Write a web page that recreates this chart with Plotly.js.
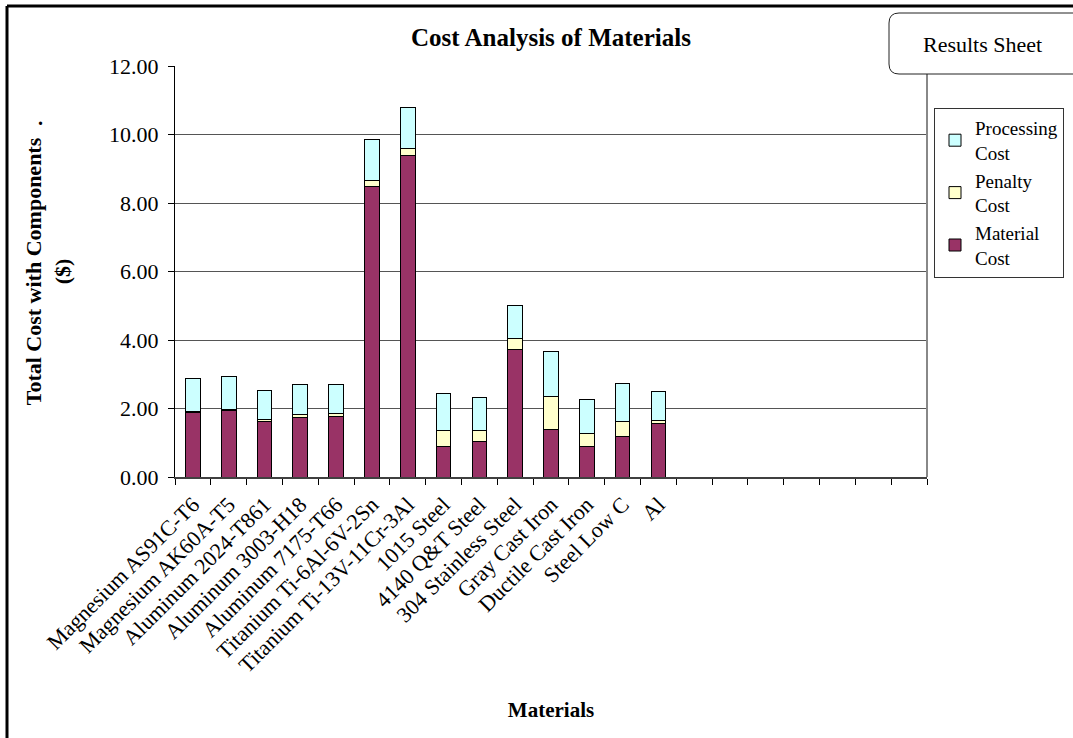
<!DOCTYPE html>
<html>
<head>
<meta charset="utf-8">
<script src="https://cdn.plot.ly/plotly-3.0.1.min.js"></script>
<style>html,body{margin:0;padding:0;background:#fff;}#chart{width:1073px;height:738px;}</style>
</head>
<body>
<div id="chart"></div>
<script>
const categories = [
  "Magnesium AS91C-T6", "Magnesium AK60A-T5", "Aluminum 2024-T861", "Aluminum 3003-H18",
  "Aluminum 7175-T66", "Titanium Ti-6Al-6V-2Sn", "Titanium Ti-13V-11Cr-3Al", "1015 Steel",
  "4140 Q&T Steel", "304 Stainless Steel", "Gray Cast Iron", "Ductile Cast Iron",
  "Steel Low C", "Al",
  " ", "  ", "   ", "    ", "     ", "      ", "       "
];
const materialCost   = [1.88, 1.95, 1.62, 1.74, 1.77, 8.48, 9.38, 0.90, 1.05, 3.72, 1.39, 0.88, 1.18, 1.57, null, null, null, null, null, null, null];
const penaltyCost    = [0.03, 0.02, 0.05, 0.09, 0.08, 0.18, 0.20, 0.47, 0.31, 0.31, 0.96, 0.38, 0.45, 0.08, null, null, null, null, null, null, null];
const processingCost = [0.97, 0.95, 0.87, 0.88, 0.86, 1.19, 1.20, 1.07, 0.95, 0.97, 1.32, 0.99, 1.11, 0.85, null, null, null, null, null, null, null];
const seriesNames = ["Material<br>Cost", "Penalty<br>Cost", "Processing<br>Cost"];
const yTickVals = [0, 2, 4, 6, 8, 10, 12];

const FONT = "Liberation Serif, Times New Roman, serif";
const line = {color: "#000", width: 1};

const traces = [
  {type: "bar", name: seriesNames[0], x: categories, y: materialCost, marker: {color: "#993366", line: line}},
  {type: "bar", name: seriesNames[1], x: categories, y: penaltyCost, marker: {color: "#FFFFCC", line: line}},
  {type: "bar", name: seriesNames[2], x: categories, y: processingCost, marker: {color: "#CCFFFF", line: line}}
];

// pixel -> paper helpers for decorations
const L = 175, R = 927, T = 66, B = 477;
const px = v => (v - L) / (R - L);
const py = v => (B - v) / (B - T);

const bx0 = px(889), bx1 = px(1090), by0 = py(74), by1 = py(13);
const rx = 10 / (R - L), ry = 10 / (B - T);
const boxPath = `M${bx0 + rx},${by1} L${bx1 - rx},${by1} Q${bx1},${by1} ${bx1},${by1 - ry} L${bx1},${by0 + ry} Q${bx1},${by0} ${bx1 - rx},${by0} L${bx0 + rx},${by0} Q${bx0},${by0} ${bx0},${by0 + ry} L${bx0},${by1 - ry} Q${bx0},${by1} ${bx0 + rx},${by1} Z`;

const layout = {
  width: 1073, height: 738,
  margin: {l: L, r: 1073 - R, t: T, b: 738 - B, autoexpand: false},
  paper_bgcolor: "#fff", plot_bgcolor: "#fff",
  barmode: "stack", bargap: 0.59,
  font: {family: FONT, color: "#000", size: 21},
  title: {text: "<b>Cost Analysis of Materials</b>", font: {family: FONT, size: 25, color: "#000"},
          x: 0.5, xref: "paper", y: 1 - 37 / 738, yanchor: "middle"},
  xaxis: {
    type: "category", categoryorder: "array", categoryarray: categories,
    range: [-0.5, categories.length - 0.5],
    tickangle: -45, tickson: "boundaries", ticks: "outside", ticklen: 6, tickcolor: "#000",
    ticklabelstandoff: 4,
    tickfont: {family: FONT, size: 22, color: "#000"},
    showline: true, linecolor: "#404040", linewidth: 2, showgrid: false,
    title: {text: "<b>Materials</b>", font: {family: FONT, size: 21, color: "#000"}, standoff: 26}
  },
  yaxis: {
    range: [0, 12], tickvals: yTickVals, tickformat: ".2f",
    ticks: "outside", ticklen: 6, tickcolor: "#000",
    ticklabelstandoff: 5,
    tickfont: {family: FONT, size: 22, color: "#000"},
    showline: true, linecolor: "#000", linewidth: 1,
    showgrid: true, gridcolor: "#555", gridwidth: 1, zeroline: false,
    title: {text: "<b>Total Cost with Components<br>($)</b>", font: {family: FONT, size: 22, color: "#000"}, standoff: 32}
  },
  legend: {
    x: px(934), y: py(108), xanchor: "left", yanchor: "top",
    traceorder: "reversed", bgcolor: "#fff", bordercolor: "#333", borderwidth: 1,
    font: {family: FONT, size: 19, color: "#000"}, itemwidth: 30
  },
  shapes: [
    {type: "line", xref: "paper", yref: "paper", x0: 1, x1: 1, y0: 0, y1: by0, line: {color: "#888", width: 2}},
    {type: "path", xref: "paper", yref: "paper", path: boxPath, fillcolor: "#fff", line: {color: "#222", width: 1}},
    {type: "line", xref: "paper", yref: "paper", x0: px(7), x1: px(1080), y0: py(6), y1: py(6), line: {color: "#000", width: 3}},
    {type: "line", xref: "paper", yref: "paper", x0: px(7), x1: px(7), y0: py(6), y1: py(745), line: {color: "#000", width: 3}}
  ],
  annotations: [
    {text: "Results Sheet", xref: "paper", yref: "paper", x: px(982), y: py(44), showarrow: false,
     xanchor: "center", yanchor: "middle", font: {family: FONT, size: 22, color: "#000"}},
    {text: "<b>.</b>", xref: "paper", yref: "paper", x: px(40), y: py(118), showarrow: false,
     xanchor: "center", yanchor: "middle", font: {family: FONT, size: 20, color: "#000"}}
  ]
};

Plotly.newPlot("chart", traces, layout, {displayModeBar: false, staticPlot: true});
</script>
</body>
</html>
